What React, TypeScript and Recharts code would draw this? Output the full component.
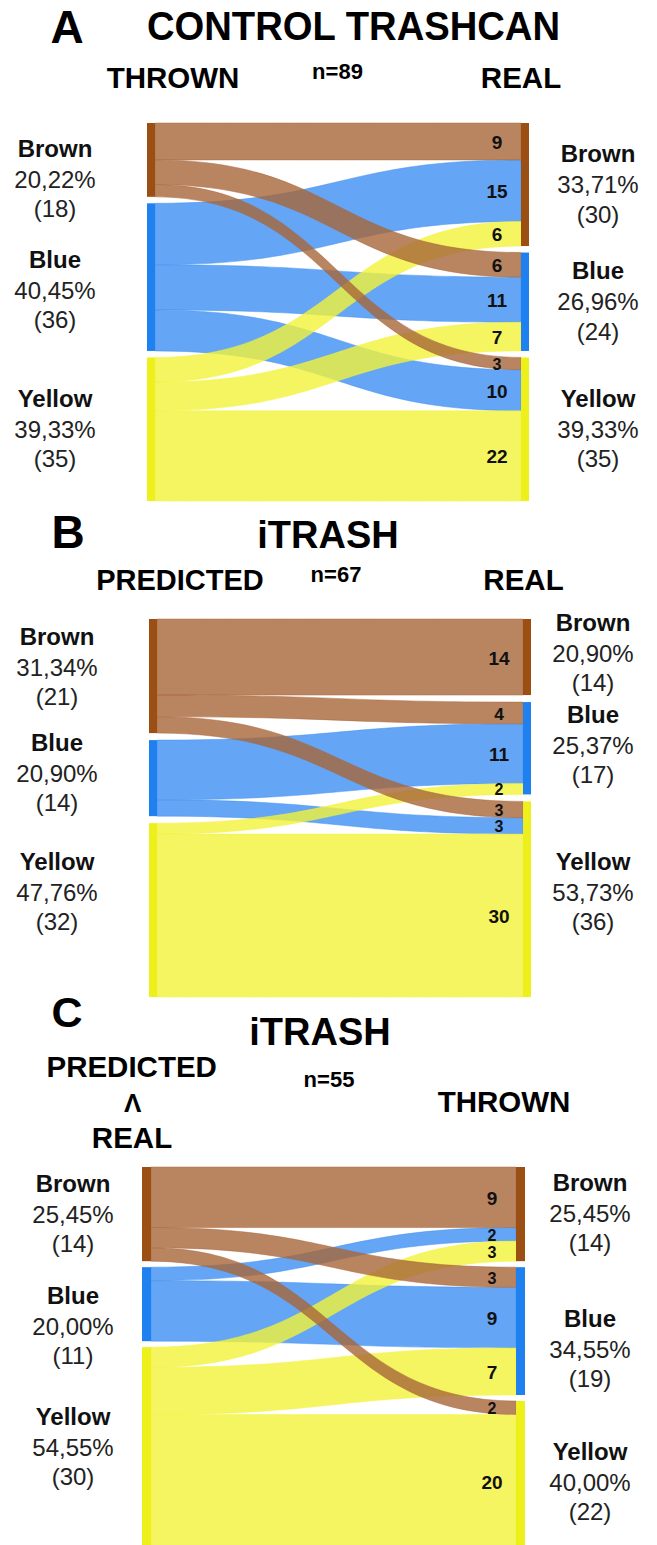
import React from 'react';
import { Sankey } from 'recharts';

const CATEGORIES = ['Brown', 'Blue', 'Yellow'];

// rows = left column (source), columns = right column (target), order as CATEGORIES
const FLOWS_A = [
  [9, 6, 3],
  [15, 11, 10],
  [6, 7, 22],
];
const FLOWS_B = [
  [14, 4, 3],
  [0, 11, 3],
  [0, 2, 30],
];
const FLOWS_C = [
  [9, 3, 2],
  [2, 9, 0],
  [3, 7, 20],
];

const PCT_A_LEFT = ['20,22%', '40,45%', '39,33%'];
const PCT_A_RIGHT = ['33,71%', '26,96%', '39,33%'];
const PCT_B_LEFT = ['31,34%', '20,90%', '47,76%'];
const PCT_B_RIGHT = ['20,90%', '25,37%', '53,73%'];
const PCT_C_LEFT = ['25,45%', '20,00%', '54,55%'];
const PCT_C_RIGHT = ['25,45%', '34,55%', '40,00%'];

const NODE_COLORS = ['#9c4f12', '#1f80f0', '#eef01c'];
const LINK_COLORS = ['#a8663a', '#3d8ff2', '#f2f23a'];

const FONT = '"Liberation Sans", Arial, Helvetica, sans-serif';
const PAD_TOP = 40;
const PAD_BOTTOM = 20;

function buildData(flows: number[][]) {
  const nodes = [...CATEGORIES, ...CATEGORIES].map((name) => ({ name }));
  const links: { source: number; target: number; value: number }[] = [];
  flows.forEach((row, s) => {
    row.forEach((v, t) => {
      if (v > 0) links.push({ source: s, target: t + 3, value: v });
    });
  });
  return { nodes, links };
}

const PANELS = [
  {
    key: 'A',
    flows: FLOWS_A,
    pctLeft: PCT_A_LEFT,
    pctRight: PCT_A_RIGHT,
    top: 122.5,
    height: 378,
    left: 147,
    right: 128,
    nodeWidth: 8,
    pad: 6.5,
    leftLabelX: 55,
    rightLabelX: 598,
    leftNudge: [19.5, 13, 0],
    rightNudge: [0, 0, 0],
  },
  {
    key: 'B',
    flows: FLOWS_B,
    pctLeft: PCT_B_LEFT,
    pctRight: PCT_B_RIGHT,
    top: 619,
    height: 378,
    left: 149,
    right: 126,
    nodeWidth: 8,
    pad: 7,
    leftLabelX: 57,
    rightLabelX: 593,
    leftNudge: [-9, -5, -18],
    rightNudge: [-4, -3, -7],
  },
  {
    key: 'C',
    flows: FLOWS_C,
    pctLeft: PCT_C_LEFT,
    pctRight: PCT_C_RIGHT,
    top: 1167,
    height: 382,
    left: 142,
    right: 132,
    nodeWidth: 9,
    pad: 6,
    leftLabelX: 73,
    rightLabelX: 590,
    leftNudge: [0, 22, -1],
    rightNudge: [-1, 18, 7],
  },
];

type Panel = (typeof PANELS)[number];

const emptyNode = () => <g />;

function makeNode(panel: Panel) {
  return (props: any) => {
    const { x, y, width, height, payload } = props;
    const c = CATEGORIES.indexOf(payload.name);
    const isLeft = payload.depth === 0;
    const cx = isLeft ? panel.leftLabelX : panel.rightLabelX;
    const cy = y + height / 2 + (isLeft ? panel.leftNudge[c] : panel.rightNudge[c]);
    const pct = isLeft ? panel.pctLeft[c] : panel.pctRight[c];
    return (
      <g>
        <rect x={x} y={y} width={width} height={height} fill={NODE_COLORS[c]} />
        <g fontFamily={FONT} textAnchor="middle" dominantBaseline="central" fontSize={24}>
          <text x={cx} y={cy - 31} fontWeight="bold" fill="#111">
            {payload.name}
          </text>
          <text x={cx} y={cy} fill="#222">
            {pct}
          </text>
          <text x={cx} y={cy + 29.5} fill="#222">
            ({payload.value})
          </text>
        </g>
      </g>
    );
  };
}

// layer 'under' draws blue and yellow ribbons, layer 'over' draws brown ribbons and all value labels
function makeLink(layer: 'under' | 'over') {
  return (props: any) => {
    const { sourceX, targetX, sourceY, targetY, sourceControlX, targetControlX, linkWidth, payload } = props;
    const srcName = typeof payload.source === 'object' ? payload.source.name : CATEGORIES[payload.source % 3];
    const c = CATEGORIES.indexOf(srcName);
    const h = linkWidth / 2;
    const d =
      `M${sourceX},${sourceY - h} C${sourceControlX},${sourceY - h} ${targetControlX},${targetY - h} ${targetX},${targetY - h} ` +
      `L${targetX},${targetY + h} C${targetControlX},${targetY + h} ${sourceControlX},${sourceY + h} ${sourceX},${sourceY + h} Z`;
    const drawRibbon = layer === 'under' ? c !== 0 : c === 0;
    const fs = Math.max(16, Math.min(19, linkWidth * 0.8));
    return (
      <g>
        {drawRibbon && (
          <path
            d={d}
            fill={LINK_COLORS[c]}
            fillOpacity={0.8}
            stroke={LINK_COLORS[c]}
            strokeOpacity={0.6}
            strokeWidth={0.8}
          />
        )}
        {layer === 'over' && (
          <text
            x={targetX - 24}
            y={targetY + 1}
            textAnchor="middle"
            dominantBaseline="central"
            fontFamily={FONT}
            fontWeight="bold"
            fontSize={fs}
            fill="#111"
          >
            {payload.value}
          </text>
        )}
      </g>
    );
  };
}

const HEADERS = [
  { text: 'A', x: 67, y: 43, size: 46 },
  { text: 'CONTROL TRASHCAN', x: 353.5, y: 40, size: 40, len: 413 },
  { text: 'THROWN', x: 173, y: 88, size: 29.5 },
  { text: 'n=89', x: 337.5, y: 79, size: 22 },
  { text: 'REAL', x: 521, y: 88, size: 29.5 },
  { text: 'B', x: 68, y: 548, size: 46 },
  { text: 'iTRASH', x: 328, y: 548, size: 38 },
  { text: 'PREDICTED', x: 180, y: 590, size: 29 },
  { text: 'n=67', x: 336, y: 582, size: 22 },
  { text: 'REAL', x: 523.5, y: 590, size: 29.5 },
  { text: 'C', x: 67, y: 1027, size: 43 },
  { text: 'iTRASH', x: 320, y: 1045, size: 38 },
  { text: 'PREDICTED', x: 131.7, y: 1077, size: 29.5 },
  { text: 'Λ', x: 132.7, y: 1112, size: 26 },
  { text: 'REAL', x: 132, y: 1148, size: 29.5 },
  { text: 'n=55', x: 329, y: 1087, size: 22 },
  { text: 'THROWN', x: 504, y: 1112, size: 29.5 },
];

function PanelChart({ p, layer }: { p: Panel; layer: 'under' | 'over' }) {
  return (
    <div style={{ position: 'absolute', left: 0, top: p.top - PAD_TOP }}>
      <Sankey
        width={657}
        height={p.height + PAD_TOP + PAD_BOTTOM}
        data={buildData(p.flows)}
        margin={{ top: PAD_TOP, bottom: PAD_BOTTOM, left: p.left, right: p.right }}
        nodeWidth={p.nodeWidth}
        nodePadding={p.pad}
        iterations={0}
        sort={false}
        node={layer === 'over' ? makeNode(p) : emptyNode}
        link={makeLink(layer)}
      />
    </div>
  );
}

export default function App() {
  return (
    <div
      style={{
        position: 'absolute',
        left: 0,
        top: 0,
        width: 657,
        height: 1545,
        overflow: 'hidden',
        background: '#fff',
      }}
    >
      <svg width={657} height={1545} style={{ position: 'absolute', left: 0, top: 0 }}>
        {HEADERS.map((h, i) => (
          <text
            key={i}
            x={h.x}
            y={h.y}
            textAnchor="middle"
            fontFamily={FONT}
            fontWeight="bold"
            fontSize={h.size}
            fill="#000"
            {...(h.len ? { textLength: h.len, lengthAdjust: 'spacingAndGlyphs' } : {})}
          >
            {h.text}
          </text>
        ))}
      </svg>
      {PANELS.map((p) => (
        <React.Fragment key={p.key}>
          <PanelChart p={p} layer="under" />
          <PanelChart p={p} layer="over" />
        </React.Fragment>
      ))}
    </div>
  );
}
